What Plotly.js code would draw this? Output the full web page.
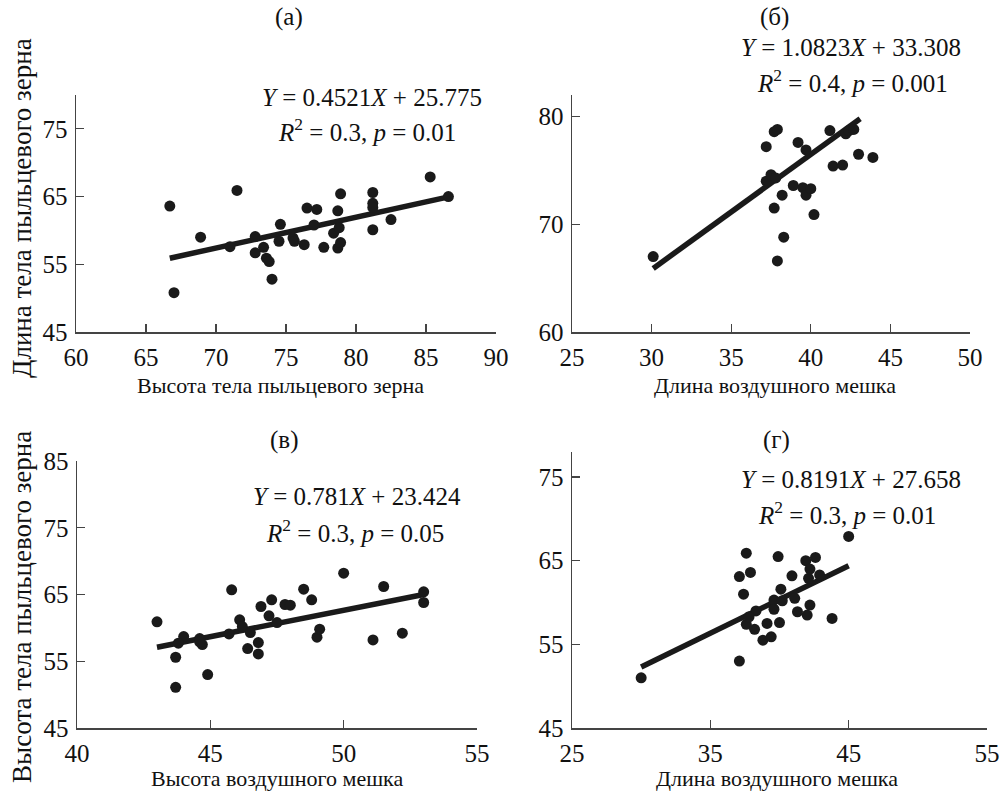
<!DOCTYPE html>
<html><head><meta charset="utf-8">
<script src="https://cdn.plot.ly/plotly-3.0.1.min.js"></script>
<style>html,body{margin:0;padding:0;background:#fff}</style>
</head><body><div id="chart" style="width:1001px;height:792px"></div>
<script>
// Panel (a): высота тела (x) vs длина тела (y)
const aX = [66.7,67.0,68.9,71.0,71.5,72.8,72.8,73.4,73.6,73.8,74.0,74.5,74.6,75.5,75.6,76.3,76.5,77.2,77.0,77.7,78.4,78.7,78.9,78.8,78.7,78.9,81.2,81.2,81.2,81.2,82.5,85.3,86.6];
const aY = [63.6,50.8,59.0,57.6,65.9,59.1,56.7,57.5,55.9,55.4,52.8,58.4,60.9,58.9,58.4,57.9,63.3,63.1,60.8,57.5,59.6,57.4,58.2,60.4,62.9,65.4,65.6,64.0,63.4,60.1,61.6,67.9,65.0];
const aLineX = [66.7, 86.7];
const aLineY = [55.9, 65.0];
// Panel (б): длина мешка (x) vs длина тела (y)
const bX = [30.1,37.9,38.3,37.7,38.2,40.2,38.9,39.5,39.7,40.0,37.2,37.7,37.9,39.2,39.7,37.2,37.5,37.8,41.2,41.4,42.0,42.2,42.4,42.7,43.0,43.9];
const bY = [67.0,66.6,68.8,71.5,72.7,70.9,73.6,73.4,72.7,73.3,77.2,78.6,78.8,77.6,76.9,74.0,74.6,74.3,78.7,75.4,75.5,78.4,78.7,78.8,76.5,76.2];
const bLineX = [30.1, 43.1];
const bLineY = [65.9, 79.8];
// Panel (в): высота мешка (x) vs высота тела (y)
const cX = [43.0,43.7,43.7,44.0,43.8,44.6,44.7,44.6,44.9,45.7,45.8,46.1,46.2,46.5,46.4,46.8,46.8,46.9,47.2,47.3,47.5,47.8,48.0,48.5,48.8,49.0,49.1,50.0,51.1,51.5,52.2,53.0,53.0];
const cY = [60.9,55.6,51.1,58.7,57.7,58.4,57.5,57.9,53.0,59.1,65.7,61.2,60.2,59.3,56.9,57.8,56.1,63.2,61.8,64.2,60.8,63.5,63.4,65.8,64.2,58.6,59.8,68.2,58.2,66.2,59.2,65.4,63.8];
const cLineX = [43.0, 53.0];
const cLineY = [57.1, 65.0];
// Panel (г): длина мешка (x) vs высота тела (y)
const dX = [30.0,37.1,37.1,37.4,37.6,37.9,37.6,38.2,38.3,37.8,38.8,39.1,39.4,39.6,39.6,39.9,40.0,40.1,40.2,40.9,41.1,41.3,41.9,42.0,42.2,42.1,42.2,42.6,42.9,43.8,45.0];
const dY = [51.0,53.0,63.1,61.0,65.9,63.6,57.4,56.8,59.0,58.3,55.5,57.5,55.9,60.3,59.2,65.5,57.6,61.6,60.2,63.2,60.5,58.9,65.0,58.5,59.7,62.9,64.0,65.4,63.3,58.1,67.9];
const dLineX = [30.0, 45.0];
const dLineY = [52.3, 64.4];

const W = 1001, H = 792;
const px = v => v / W;
const py = v => 1 - v / H;
const FAM = '"Liberation Serif", "DejaVu Serif", serif';
const font = s => ({family: FAM, size: s, color: '#111'});
const DOT = '#1a1a1a';

function pts(x, y, n) {
  return {x: x, y: y, type: 'scatter', mode: 'markers', xaxis: 'x' + n, yaxis: 'y' + n,
    marker: {size: 11, color: DOT}, showlegend: false, hoverinfo: 'x+y'};
}
function line(x, y, n) {
  return {x: x, y: y, type: 'scatter', mode: 'lines', xaxis: 'x' + n, yaxis: 'y' + n,
    line: {color: DOT, width: 5.5}, showlegend: false, hoverinfo: 'skip'};
}
const data = [
  line(aLineX, aLineY, ''), pts(aX, aY, ''),
  line(bLineX, bLineY, 2), pts(bX, bY, 2),
  line(cLineX, cLineY, 3), pts(cX, cY, 3),
  line(dLineX, dLineY, 4), pts(dX, dY, 4)
];

function ax(domain, range, dtick, anchor) {
  return {domain: domain, range: range, dtick: dtick, tick0: range[0], anchor: anchor,
    showline: true, linecolor: '#444', linewidth: 1.5, showgrid: false, zeroline: false,
    ticks: 'inside', ticklen: 8, tickwidth: 1.2, tickcolor: '#444', tickfont: font(25),
    ticklabelstandoff: 2, ticklabeloverflow: 'allow', fixedrange: true};
}
const layout = {
  width: W, height: H, margin: {l: 0, r: 0, t: 0, b: 0},
  paper_bgcolor: '#fff', plot_bgcolor: 'rgba(0,0,0,0)', font: font(22), showlegend: false,
  xaxis:  ax([px(76), px(496)], [60, 90], 5, 'y'),
  yaxis:  ax([py(332), py(95)], [45, 80], 10, 'x'),
  xaxis2: ax([px(572), px(970)], [25, 50], 5, 'y2'),
  yaxis2: ax([py(332), py(95)], [60, 82], 10, 'x2'),
  xaxis3: ax([px(77), px(477)], [40, 55], 5, 'y3'),
  yaxis3: ax([py(728), py(461)], [45, 85], 10, 'x3'),
  xaxis4: ax([px(572), px(987)], [25, 55], 10, 'y4'),
  yaxis4: ax([py(728), py(452)], [45, 78], 10, 'x4'),
  annotations: []
};
function note(text, x, y, size, angle) {
  layout.annotations.push({text: text, x: px(x), y: py(y), xref: 'paper', yref: 'paper',
    showarrow: false, font: font(size), xanchor: 'center', yanchor: 'middle', textangle: angle || 0});
}
note('(а)', 289, 17, 25); note('(б)', 774, 17, 25); note('(в)', 284, 440, 25); note('(г)', 776, 440, 25);
note('<i>Y</i> = 0.4521<i>X</i> + 25.775', 372, 97, 25);
note('<i>R</i><sup>2</sup> = 0.3, <i>p</i> = 0.01', 367, 130, 25);
note('<i>Y</i> = 1.0823<i>X</i> + 33.308', 851, 48, 25);
note('<i>R</i><sup>2</sup> = 0.4, <i>p</i> = 0.001', 852, 81, 25);
note('<i>Y</i> = 0.781<i>X</i> + 23.424', 357, 496, 25);
note('<i>R</i><sup>2</sup> = 0.3, <i>p</i> = 0.05', 355, 531, 25);
note('<i>Y</i> = 0.8191<i>X</i> + 27.658', 851, 479, 25);
note('<i>R</i><sup>2</sup> = 0.3, <i>p</i> = 0.01', 847, 513, 25);
note('Высота тела пыльцевого зерна', 280, 385, 22);
note('Длина воздушного мешка', 775, 385, 22);
note('Высота воздушного мешка', 277, 778, 22);
note('Длина воздушного мешка', 777, 778, 22);
note('Длина тела пыльцевого зерна', 22, 208, 27, -90);
note('Высота тела пыльцевого зерна', 22, 607, 27, -90);

Plotly.newPlot('chart', data, layout, {displayModeBar: false, staticPlot: true});
</script></body></html>
